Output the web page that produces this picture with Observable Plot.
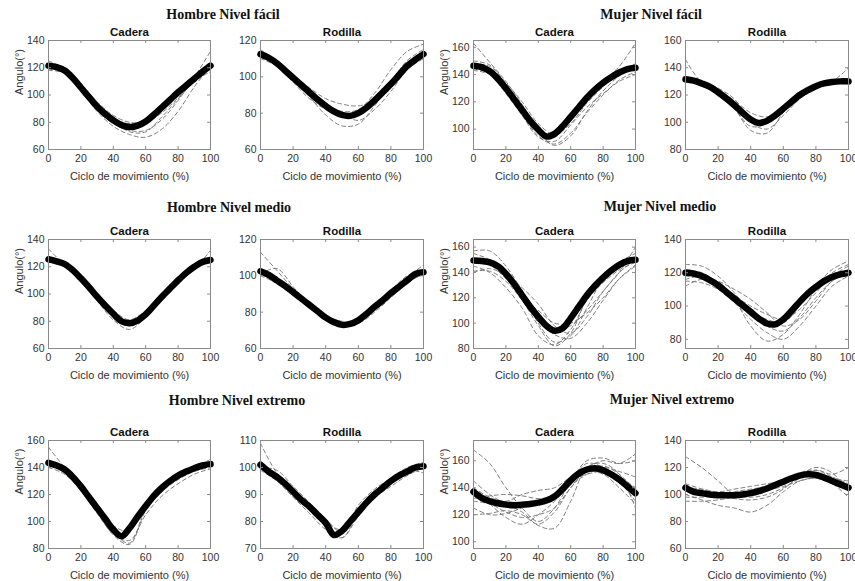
<!DOCTYPE html>
<html><head><meta charset="utf-8">
<script src="https://cdn.jsdelivr.net/npm/d3@7"></script>
<script src="https://cdn.jsdelivr.net/npm/@observablehq/plot@0.6"></script>
<style>
body{margin:0;background:#fff;overflow:hidden;}
#root{position:relative;width:855px;height:581px;overflow:hidden;background:#fff;font-family:"Liberation Sans",Arial,sans-serif;}
.title{position:absolute;font-family:"Liberation Serif","Times New Roman",serif;font-weight:bold;font-size:14px;transform:translate(-50%,-50%);white-space:nowrap;color:#111;}
</style></head><body><div id="root"></div>
<script>
// ---------- data ----------
const xMean = [0,5,10,15,20,25,30,35,40,45,50,55,60,65,70,75,80,85,90,95,100];
const xTrial = [0,10,20,30,40,50,60,70,80,90,100];
const xTicks = [0,20,40,60,80,100];
const groupTitles = ["Hombre Nivel fácil","Mujer Nivel fácil","Hombre Nivel medio","Mujer Nivel medio","Hombre Nivel extremo","Mujer Nivel extremo"];
const jointNames = ["Cadera","Rodilla"];
const yLabelText = "Angulo(°)";
const xLabelText = "Ciclo de movimiento (%)";

// Hombre fácil
const hFacilCaderaMean = [121.5,120.5,118,112.5,105.5,98.5,91.5,86,81.5,78,76.5,77.5,80.5,85.5,91,96.5,102,107,112,117,121.5];
const hFacilCaderaTrials = [
 [125,119,104,89,79,74,74,82,96,113,132],
 [120,118,106,93,83,79,82,92,103,113,120],
 [118,116,103,88,77,71,69,75,88,106,121],
 [122,120,108,95,85,80,80,87,98,110,124],
 [119,117,105,92,81,73,73,84,97,110,117]];
const hFacilRodillaMean = [112.5,110.5,107.5,103.5,99.5,95.5,91.5,87.5,84,81,79,78.5,80,83,87,91.5,96,101,106,109.5,112.5];
const hFacilRodillaTrials = [
 [115,108,98,89,79,73,74,84,97,109,115],
 [111,108,101,94,88,85,84,87,95,105,112],
 [110,106,99,92,85,80,76,82,92,104,110],
 [113,109,101,92,85,81,82,91,104,114,118],
 [111,106,97,88,82,78,79,86,95,104,111]];
// Mujer fácil
const mFacilCaderaMean = [146.5,145.5,142.5,137,130,122,114,106,99.5,94.5,96.5,102,109,116,123,129,134,138,141.5,144,145];
const mFacilCaderaTrials = [
 [150,147,133,116,98,88,95,113,128,139,146],
 [144,141,127,111,95,89,97,112,125,136,142],
 [148,146,134,120,104,96,104,119,131,141,148],
 [143,140,126,110,94,91,103,116,126,135,140],
 [163,149,135,118,100,94,108,123,135,146,163]];
const mFacilRodillaMean = [131.5,130.5,128.5,126,122,117.5,112.5,107,102,99.5,101,105,110,115,120,123.5,126.5,128.5,129.5,130,130];
const mFacilRodillaTrials = [
 [146,129,123,114,103,101,110,120,127,130,140],
 [130,128,121,110,97,99,109,119,126,129,131],
 [132,130,124,116,107,104,111,121,127,129,128],
 [131,127,120,110,94,92,107,118,125,128,130],
 [133,130,125,117,100,95,105,117,125,130,132]];
// Hombre medio
const hMedioCaderaMean = [125.5,124,122,117.5,111.5,105,98,91.5,85.5,80,78.5,80.5,85,91.5,98,104,110,115.5,120,123.5,125];
const hMedioCaderaTrials = [
 [133,121,109,95,81,74,83,97,110,121,126],
 [124,122,112,100,88,81,86,99,110,119,124],
 [126,123,113,99,83,77,86,97,108,118,132],
 [124,120,110,97,86,81,88,100,112,121,124]];
const hMedioRodillaMean = [102.5,100.5,97.5,94.5,91,87.5,84,80.5,77,74.5,73,73.5,75.5,79,83,86.5,90.5,94,97.5,101,102];
const hMedioRodillaTrials = [
 [113,103,93,85,77,73,75,82,90,97,101],
 [101,104,94,84,76,72,74,82,91,99,106],
 [102,97,90,83,76,74,76,84,92,100,103],
 [100,96,90,84,78,75,74,80,88,96,101]];
// Mujer medio
const mMedioCaderaMean = [149.5,149,148,145,139,131,122,113,105,98,94,96,104,113,122,129.5,136,141.5,146,149,150];
const mMedioCaderaTrials = [
 [157,157,145,125,100,85,90,112,135,148,155],
 [141,141,133,118,98,82,92,120,138,148,152],
 [155,150,140,125,108,96,98,110,125,140,150],
 [150,146,135,120,110,100,100,108,120,135,145],
 [145,140,128,112,90,83,95,118,132,142,148],
 [148,147,139,128,115,98,92,105,125,140,160],
 [140,143,137,122,104,91,88,100,118,135,146]];
const mMedioRodillaMean = [120,119.5,118,115.5,112.5,108.5,104.5,100.5,96.5,92.5,89.5,89,92,97,102.5,107.5,111.5,115,117.5,119,120];
const mMedioRodillaTrials = [
 [125,124,118,108,96,88,85,93,105,115,120],
 [115,114,110,102,92,84,80,88,100,112,118],
 [118,117,112,106,100,95,92,98,108,118,124],
 [122,120,114,104,88,79,83,95,110,120,125],
 [116,118,115,110,104,96,88,92,103,115,120],
 [112,116,112,104,96,92,90,100,112,122,127]];
// Hombre extremo
const hExtremoCaderaMean = [143.5,141.5,138.5,133,126,118,110,102,94,89,95,103.5,111.5,119,125,130,134,137,139.5,141.5,142.5];
const hExtremoCaderaTrials = [
 [155,140,127,110,92,84,110,125,134,140,146],
 [140,135,123,107,90,83,108,122,131,137,140],
 [144,138,126,112,97,93,113,127,135,140,143],
 [142,137,123,106,91,86,105,119,128,135,139]];
const hExtremoRodillaMean = [101,98.5,96.5,94,91,88,85.5,82.5,79.5,75,76.5,80,83.5,87,90,92.5,95,97,98.5,100,100.5];
const hExtremoRodillaTrials = [
 [109,98,92,86,80,74,82,89,95,99,101],
 [100,99,93,87,81,76,86,92,96,100,102],
 [99,95,89,83,77,74,83,89,93,97,100],
 [101,97,91,86,80,77,85,91,96,99,98]];
// Mujer extremo
const mExtremoCaderaMean = [137,132.5,130,128.5,127.5,127,127.5,128,129,130.5,133.5,139,145.5,150.5,153.5,154.5,153,150,146,141,136];
const mExtremoCaderaTrials = [
 [168,158,140,125,115,125,145,160,162,158,160],
 [145,135,128,122,112,110,130,155,158,150,125],
 [140,133,130,135,138,140,148,155,160,158,165],
 [138,128,118,113,120,130,145,158,155,145,130],
 [130,128,122,118,120,125,140,152,150,140,128],
 [125,120,121,125,130,135,145,150,152,148,140],
 [132,134,135,134,132,134,142,150,155,152,148],
 [120,121,123,120,113,122,140,152,156,150,138]];
const mExtremoRodillaMean = [105,102,101,100,99.5,99.5,99.5,100,101,102.5,104.5,107,109.5,112,114,115,114.5,112.5,110,107.5,105];
const mExtremoRodillaTrials = [
 [128,120,110,100,98,100,105,112,118,115,120],
 [100,96,92,90,87,92,102,110,112,108,98],
 [105,104,102,104,106,108,110,113,115,112,110],
 [95,95,96,98,100,103,106,110,112,108,103],
 [108,104,100,97,96,98,104,114,120,116,102],
 [98,98,99,102,104,106,110,116,118,113,108]];

// y scales (domains and tick values)
const yTicks140_60 = [60,80,100,120,140];
const yTicks120_60 = [60,80,100,120];
const yTicks160_100 = [100,120,140,160];
const yTicks160_80 = [80,100,120,140,160];
const yTicks140_80 = [80,100,120,140];
const yTicks110_70 = [70,80,90,100,110];

// ---------- layout ----------
const root = document.getElementById("root");
const colLeft = [48, 260, 473, 685];
const colW = [162, 163, 162, 163];
const rowTop = [40, 239, 440];
const rowH = [109, 109, 108];

const panels = [
 {r:0,c:0,mean:hFacilCaderaMean,trials:hFacilCaderaTrials,dom:[60,140],ticks:yTicks140_60},
 {r:0,c:1,mean:hFacilRodillaMean,trials:hFacilRodillaTrials,dom:[60,120],ticks:yTicks120_60},
 {r:0,c:2,mean:mFacilCaderaMean,trials:mFacilCaderaTrials,dom:[85,165],ticks:yTicks160_100},
 {r:0,c:3,mean:mFacilRodillaMean,trials:mFacilRodillaTrials,dom:[80,160],ticks:yTicks160_80},
 {r:1,c:0,mean:hMedioCaderaMean,trials:hMedioCaderaTrials,dom:[60,140],ticks:yTicks140_60},
 {r:1,c:1,mean:hMedioRodillaMean,trials:hMedioRodillaTrials,dom:[60,120],ticks:yTicks120_60},
 {r:1,c:2,mean:mMedioCaderaMean,trials:mMedioCaderaTrials,dom:[80,166],ticks:yTicks160_80},
 {r:1,c:3,mean:mMedioRodillaMean,trials:mMedioRodillaTrials,dom:[74.5,140],ticks:yTicks140_80},
 {r:2,c:0,mean:hExtremoCaderaMean,trials:hExtremoCaderaTrials,dom:[80,160],ticks:yTicks160_80},
 {r:2,c:1,mean:hExtremoRodillaMean,trials:hExtremoRodillaTrials,dom:[70,110],ticks:yTicks110_70},
 {r:2,c:2,mean:mExtremoCaderaMean,trials:mExtremoCaderaTrials,dom:[95,175],ticks:yTicks160_100},
 {r:2,c:3,mean:mExtremoRodillaMean,trials:mExtremoRodillaTrials,dom:[60,140],ticks:yTicks140_60}
];

const titlePos = [[223,15],[651,15],[229,208],[660,207],[237,401],[672,400]];
groupTitles.forEach((t,i)=>{
  const d = document.createElement("div");
  d.className = "title"; d.textContent = t;
  d.style.left = titlePos[i][0]+"px"; d.style.top = titlePos[i][1]+"px";
  root.appendChild(d);
});

const mL=50, mR=24, mT=24, mB=38;
const axisCol = "#8a8a8a";
panels.forEach(p=>{
  const w = colW[p.c], h = rowH[p.r];
  const meanData = xMean.map((x,i)=>({x, y:p.mean[i]}));
  const trialData = p.trials.flatMap((t,k)=>xTrial.map((x,i)=>({x, y:t[i], k})));
  const marks = [
    Plot.line(trialData,{x:"x",y:"y",z:"k",stroke:"#707070",strokeWidth:0.9,strokeDasharray:"4,3",curve:"catmull-rom",clip:true}),
    Plot.line(meanData,{x:"x",y:"y",stroke:"#000",strokeWidth:6.5,strokeLinecap:"round",strokeLinejoin:"round",curve:"catmull-rom"}),
    Plot.frame({stroke:axisCol}),
    Plot.tickX(xTicks,{x:d=>d,insetTop:h-3,stroke:axisCol}),
    Plot.tickX(xTicks,{x:d=>d,insetBottom:h-3,stroke:axisCol}),
    Plot.tickY(p.ticks,{y:d=>d,insetRight:w-3,stroke:axisCol}),
    Plot.tickY(p.ticks,{y:d=>d,insetLeft:w-3,stroke:axisCol}),
    Plot.text([jointNames[p.c%2]],{text:d=>d,frameAnchor:"top",lineAnchor:"middle",dy:-8,fontWeight:"bold",fontSize:11.5,fill:"#111"}),
    Plot.text([xLabelText],{text:d=>d,frameAnchor:"bottom",lineAnchor:"middle",dy:27,fontSize:11,fill:"#333"})
  ];
  if (p.c%2===0) marks.push(Plot.text([yLabelText],{text:d=>d,frameAnchor:"left",dx:-29,rotate:-90,fontSize:11,fill:"#333"}));
  const svg = Plot.plot({
    width:w+mL+mR, height:h+mT+mB,
    marginLeft:mL, marginRight:mR, marginTop:mT, marginBottom:mB,
    style:{background:"transparent",overflow:"visible",fontFamily:"'Liberation Sans', Arial, sans-serif",fontSize:"10.5px",color:"#333"},
    x:{domain:[0,100],ticks:xTicks,tickSize:0,tickPadding:5,label:null},
    y:{domain:p.dom,ticks:p.ticks,tickSize:0,tickPadding:4,label:null},
    marks
  });
  svg.style.position="absolute";
  svg.style.left=(colLeft[p.c]-mL)+"px";
  svg.style.top=(rowTop[p.r]-mT)+"px";
  root.appendChild(svg);
});
</script></body></html>
